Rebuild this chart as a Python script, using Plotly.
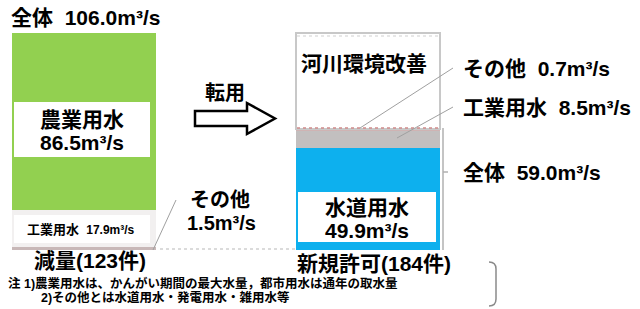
import plotly.graph_objects as go

# ---------------- data ----------------
categories = ["減量", "新規許可"]
counts = [123, 184]

# left bar (減量), bottom -> top
left_names = ["その他", "工業用水", "農業用水"]
left_values = [1.5, 17.9, 86.5]
left_total = 106.0

# right bar (新規許可), bottom -> top
right_names = ["水道用水", "工業用水", "その他", "河川環境改善"]
right_values = [49.9, 8.5, 0.7, 47.0]
right_total = 59.0

UNIT = "m³/s"

# ---------------- styling ----------------
W, H = 640, 309
FONT = "Liberation Sans, Arial, Noto Sans CJK JP"
left_colors = ["#c8b8b8", "#f2f0f0", "#92d050"]
right_colors = ["#0db0ee", "#c2bfbf", "#cfb3b3", "#ffffff"]
BAR_W = 0.507


def px(x):
    return x / W


def py(y):
    return 1 - y / H


fig = go.Figure()

for name, val, col in zip(left_names, left_values, left_colors):
    fig.add_trace(go.Bar(
        x=[categories[0]], y=[val], name=name, width=BAR_W,
        marker=dict(color=col, line=dict(width=0)), hoverinfo="skip"))

for name, val, col in zip(right_names, right_values, right_colors):
    line = dict(width=1.5, color="#c8c8c8") if name == "河川環境改善" else dict(width=0)
    fig.add_trace(go.Bar(
        x=[categories[1]], y=[val], name=name, width=BAR_W,
        marker=dict(color=col, line=line), hoverinfo="skip"))

annotations = []


def ann(text, x, y, size, xanchor="center"):
    annotations.append(dict(
        text=text, x=px(x), y=py(y), xref="paper", yref="paper",
        xanchor=xanchor, yanchor="middle", showarrow=False, borderpad=0,
        font=dict(family=FONT, size=size, color="black", weight="bold")))


def fmt(v):
    return f"{v:.1f}{UNIT}"


shapes = []


def rect(x0, y0, x1, y1, fill="white", line=None):
    shapes.append(dict(type="rect", xref="paper", yref="paper",
                       x0=px(x0), x1=px(x1), y0=py(y1), y1=py(y0),
                       fillcolor=fill, line=line or dict(width=0), layer="above"))


def seg(x0, y0, x1, y1, color="#9a9a9a", width=1, dash="solid"):
    shapes.append(dict(type="line", xref="paper", yref="paper",
                       x0=px(x0), y0=py(y0), x1=px(x1), y1=py(y1),
                       line=dict(color=color, width=width, dash=dash), layer="above"))


# white label boxes
rect(14, 102, 150, 157)
rect(14, 215, 150, 243)
rect(298, 192, 436, 242)

# dotted / leader lines
seg(160, 249, 297, 249, color="#d0d0d0", width=1.5, dash="dot")
seg(297, 36, 440, 36, color="#e0e0e0", width=1.5, dash="dot")
seg(297, 128, 440, 128, color="#d08a8a", width=1.5, dash="dot")
seg(153, 250, 176, 200, color="#a0a0a0", width=1)
seg(453, 68, 360, 128, color="#a0a0a0", width=1)
seg(453, 107, 397, 138, color="#a0a0a0", width=1)
seg(443, 128, 443, 250, color="#b0b0b0", width=1.5)
seg(443, 172, 448, 172, color="#b0b0b0", width=1.5)

# block arrow (転用)
pts = [(195, 111), (247, 111), (247, 103), (275, 118.5), (247, 134), (247, 126), (195, 126)]
path = "M " + " L ".join(f"{px(x):.5f},{py(y):.5f}" for x, y in pts) + " Z"
shapes.append(dict(type="path", xref="paper", yref="paper", path=path,
                   fillcolor="white", line=dict(color="black", width=2.5), layer="above"))

# bracket at lower right
bpath = (f"M {px(489):.5f},{py(262):.5f} Q {px(496):.5f},{py(262):.5f} {px(496):.5f},{py(269):.5f} "
         f"L {px(496):.5f},{py(299):.5f} Q {px(496):.5f},{py(306):.5f} {px(489):.5f},{py(306):.5f}")
shapes.append(dict(type="path", xref="paper", yref="paper", path=bpath,
                   line=dict(color="#8a8a8a", width=1.5), layer="above"))

# texts
ann(f"全体  {fmt(left_total)}", 10, 17, 21, "left")
ann(left_names[2], 82, 119, 21)
ann(fmt(left_values[2]), 82, 142, 21)
ann(f"{left_names[1]}  <span style='font-size:12px'>{fmt(left_values[1])}</span>", 81, 229, 13)
ann(left_names[0], 220, 200, 20)
ann(fmt(left_values[0]), 221, 223, 20)
ann("転用", 225, 93, 20)
ann(right_names[3], 364, 64, 21)
ann(f"{right_names[2]}  {fmt(right_values[2])}", 462, 68, 21, "left")
ann(f"{right_names[1]}  {fmt(right_values[1])}", 462, 107, 21, "left")
ann(f"全体  {fmt(right_total)}", 462, 172, 21, "left")
ann(right_names[0], 367, 207, 21)
ann(fmt(right_values[0]), 367, 230, 21)
ann(f"{categories[0]}({counts[0]}件)", 90, 260, 21)
ann(f"{categories[1]}({counts[1]}件)", 374, 263, 21)
ann("注 1)農業用水は、かんがい期間の最大水量，都市用水は通年の取水量", 7, 283, 12.5, "left")
ann("2)その他とは水道用水・発電用水・雑用水等", 40, 297, 12.5, "left")

fig.update_layout(
    width=W, height=H, barmode="stack", showlegend=False,
    margin=dict(l=0, r=0, t=0, b=0, pad=0),
    paper_bgcolor="white", plot_bgcolor="white",
    xaxis=dict(type="category", range=[-0.2958, 1.9577], visible=False, fixedrange=True),
    yaxis=dict(range=[-28.8, 122.1], visible=False, fixedrange=True),
    annotations=annotations, shapes=shapes,
)

fig.write_html("out.html", config={"displayModeBar": False},
               post_script="document.body.style.margin='0';")
